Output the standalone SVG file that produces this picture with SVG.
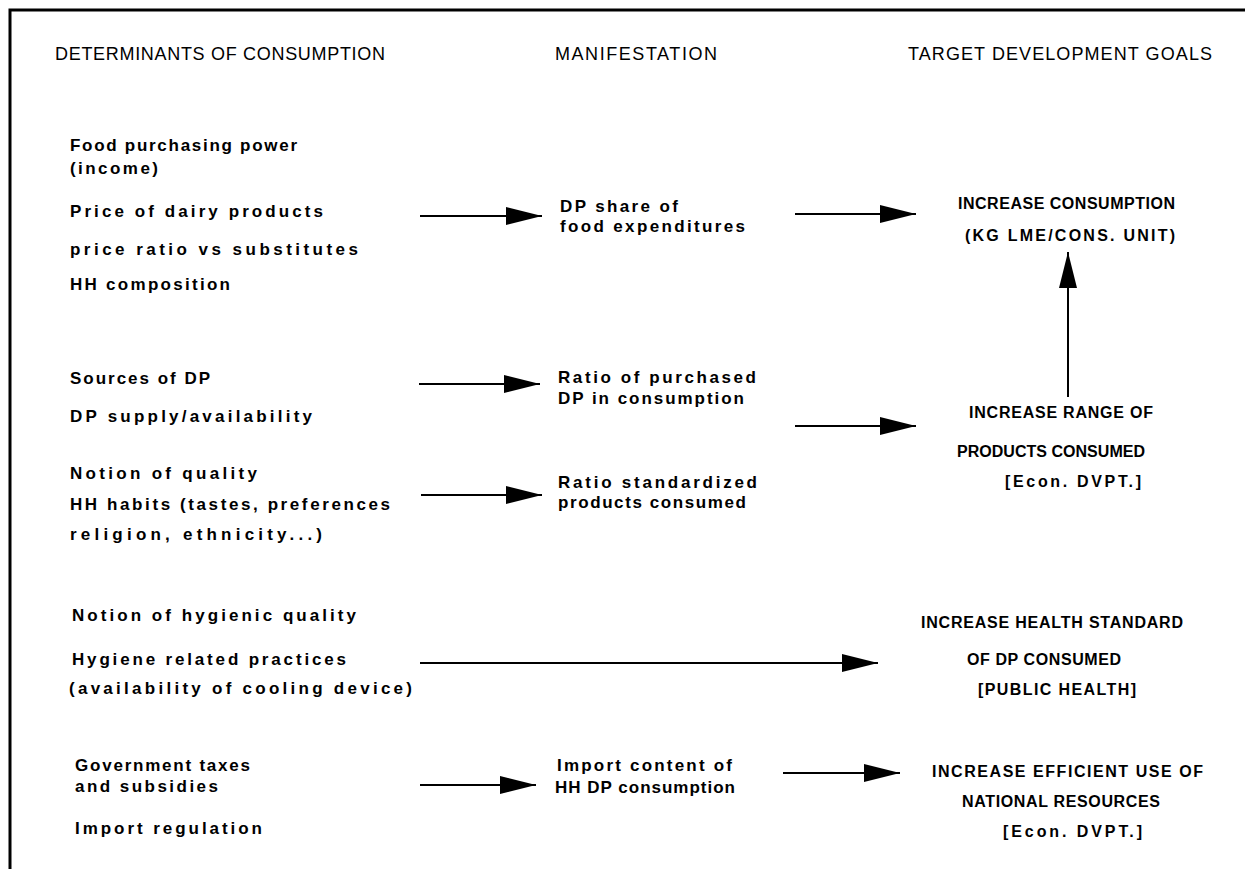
<svg xmlns="http://www.w3.org/2000/svg" width="1252" height="869" viewBox="0 0 1252 869">
<style>
text{font-family:"Liberation Sans",Arial,sans-serif;fill:#000}
.h{font-size:18px;font-weight:normal}
.t{font-size:17px;font-weight:bold}
.c{font-size:16px;font-weight:bold}
.ln{stroke:#000;stroke-width:2;fill:none}
</style>
<defs>
<marker id="ah" markerUnits="userSpaceOnUse" markerWidth="37" markerHeight="18" refX="36" refY="9" orient="auto">
<path d="M0,0 L36,9 L0,18 z" fill="#000"/>
</marker>
</defs>
<rect width="1252" height="869" fill="#fff"/>
<path d="M10,869 L10,10 L1245,10" fill="none" stroke="#000" stroke-width="3"/>

<g id="headers">
<text class="h" x="55" y="60" textLength="330" lengthAdjust="spacing">DETERMINANTS OF CONSUMPTION</text>
<text class="h" x="555" y="60" textLength="162" lengthAdjust="spacing">MANIFESTATION</text>
<text class="h" x="908" y="60" textLength="304" lengthAdjust="spacing">TARGET DEVELOPMENT GOALS</text>
</g>

<g id="det-income">
<text class="t" x="70" y="151" textLength="227" lengthAdjust="spacing">Food purchasing power</text>
<text class="t" x="70" y="174" textLength="88" lengthAdjust="spacing">(income)</text>
<text class="t" x="70" y="217" textLength="253" lengthAdjust="spacing">Price of dairy products</text>
<text class="t" x="70" y="255" textLength="288" lengthAdjust="spacing">price ratio vs substitutes</text>
<text class="t" x="70" y="290" textLength="160" lengthAdjust="spacing">HH composition</text>
</g>
<g id="det-sources">
<text class="t" x="70" y="384" textLength="140" lengthAdjust="spacing">Sources of DP</text>
<text class="t" x="70" y="422" textLength="242" lengthAdjust="spacing">DP supply/availability</text>
</g>
<g id="det-quality">
<text class="t" x="70" y="479" textLength="187" lengthAdjust="spacing">Notion of quality</text>
<text class="t" x="70" y="510" textLength="320" lengthAdjust="spacing">HH habits (tastes, preferences</text>
<text class="t" x="70" y="540" textLength="252" lengthAdjust="spacing">religion, ethnicity...)</text>
</g>
<g id="det-hygiene">
<text class="t" x="72" y="621" textLength="284" lengthAdjust="spacing">Notion of hygienic quality</text>
<text class="t" x="72" y="665" textLength="274" lengthAdjust="spacing">Hygiene related practices</text>
<text class="t" x="69" y="694" textLength="343" lengthAdjust="spacing">(availability of cooling device)</text>
</g>
<g id="det-government">
<text class="t" x="75" y="771" textLength="175" lengthAdjust="spacing">Government taxes</text>
<text class="t" x="75" y="792" textLength="143" lengthAdjust="spacing">and subsidies</text>
<text class="t" x="75" y="834" textLength="187" lengthAdjust="spacing">Import regulation</text>
</g>

<g id="man-share">
<text class="t" x="560" y="212" textLength="118" lengthAdjust="spacing">DP share of</text>
<text class="t" x="560" y="232" textLength="185" lengthAdjust="spacing">food expenditures</text>
</g>
<g id="man-purchased">
<text class="t" x="558" y="383" textLength="198" lengthAdjust="spacing">Ratio of purchased</text>
<text class="t" x="558" y="404" textLength="186" lengthAdjust="spacing">DP in consumption</text>
</g>
<g id="man-standardized">
<text class="t" x="558" y="488" textLength="199" lengthAdjust="spacing">Ratio standardized</text>
<text class="t" x="558" y="508" textLength="188" lengthAdjust="spacing">products consumed</text>
</g>
<g id="man-import">
<text class="t" x="557" y="771" textLength="175" lengthAdjust="spacing">Import content of</text>
<text class="t" x="555" y="793" textLength="180" lengthAdjust="spacing">HH DP consumption</text>
</g>

<g id="goal-consumption">
<text class="c" x="958" y="209" textLength="217" lengthAdjust="spacing">INCREASE CONSUMPTION</text>
<text class="c" x="965" y="241" textLength="210" lengthAdjust="spacing">(KG LME/CONS. UNIT)</text>
</g>
<g id="goal-range">
<text class="c" x="969" y="418" textLength="184" lengthAdjust="spacing">INCREASE RANGE OF</text>
<text class="c" x="957" y="457" textLength="188" lengthAdjust="spacing">PRODUCTS CONSUMED</text>
<text class="c" x="1005" y="487" textLength="136" lengthAdjust="spacing">[Econ. DVPT.]</text>
</g>
<g id="goal-health">
<text class="c" x="921" y="628" textLength="262" lengthAdjust="spacing">INCREASE HEALTH STANDARD</text>
<text class="c" x="967" y="665" textLength="154" lengthAdjust="spacing">OF DP CONSUMED</text>
<text class="c" x="978" y="695" textLength="158" lengthAdjust="spacing">[PUBLIC HEALTH]</text>
</g>
<g id="goal-efficient">
<text class="c" x="932" y="777" textLength="271" lengthAdjust="spacing">INCREASE EFFICIENT USE OF</text>
<text class="c" x="962" y="807" textLength="198" lengthAdjust="spacing">NATIONAL RESOURCES</text>
<text class="c" x="1003" y="837" textLength="139" lengthAdjust="spacing">[Econ. DVPT.]</text>
</g>

<g id="connectors">
<line class="ln" x1="420" y1="216" x2="542" y2="216" marker-end="url(#ah)"/>
<line class="ln" x1="795" y1="214" x2="916" y2="214" marker-end="url(#ah)"/>
<line class="ln" x1="419" y1="384" x2="540" y2="384" marker-end="url(#ah)"/>
<line class="ln" x1="795" y1="426" x2="916" y2="426" marker-end="url(#ah)"/>
<line class="ln" x1="421" y1="495" x2="542" y2="495" marker-end="url(#ah)"/>
<line class="ln" x1="1068" y1="397" x2="1068" y2="252" marker-end="url(#ah)"/>
<line class="ln" x1="420" y1="663" x2="878" y2="663" marker-end="url(#ah)"/>
<line class="ln" x1="420" y1="785" x2="536" y2="785" marker-end="url(#ah)"/>
<line class="ln" x1="783" y1="773" x2="900" y2="773" marker-end="url(#ah)"/>
</g>
</svg>
